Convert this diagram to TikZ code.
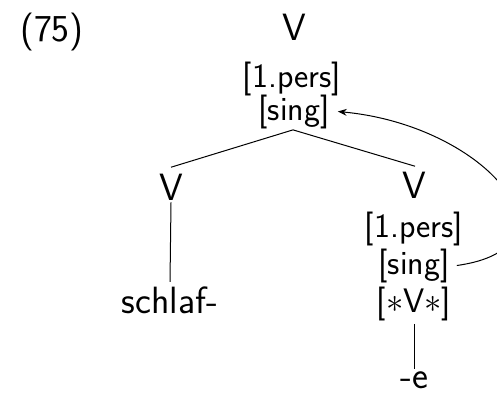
\documentclass[tikz,border=0pt]{standalone}
\usepackage{fontspec}
\usetikzlibrary{arrows.meta}
\tikzset{
  big/.style={inner sep=0pt, anchor=base, font=\sffamily\fontsize{19}{22}\selectfont},
  feat/.style={inner sep=0pt, anchor=base, font=\sffamily\fontsize{17}{20}\selectfont},
  branch/.style={line width=0.5pt},
  agree/.style={line width=0.5pt, -{Stealth[length=4.5pt,width=3.5pt]}}
}
\begin{document}
\begin{tikzpicture}[x=1pt,y=1pt]
\useasboundingbox (0,0) rectangle (248.5,196.5);
\node[big] (num) at (26,176) {(75)};
\node[big] (v1) at (147,176.5) {V};
\node[feat] (f1a) at (146,153) {[1.pers]};
\node[feat] (f1b) at (147,136.5) {[sing]};
\node[big] (v2) at (85.5,96.5) {V};
\node[big] (schlaf) at (85,40) {schlaf-};
\node[big] (v3) at (207,97.5) {V};
\node[feat] (f3a) at (207,78) {[1.pers]};
\node[feat] (f3b) at (207,59.5) {[sing]};
\node[feat] (f3c) at (207,40.5) {[$\ast$V$\ast$]};
\node[big] (e) at (207,2.5) {-e};
\draw[branch] ([xshift=-0.5pt,yshift=-0.5pt]f1b.south) -- ([yshift=3pt]v2.north);
\draw[branch] ([xshift=-0.5pt,yshift=-0.5pt]f1b.south) -- ([xshift=0.5pt,yshift=2.5pt]v3.north);
\draw[branch] ([yshift=-1pt]v2.south) -- ([yshift=2pt]schlaf.north);
\draw[branch] ([yshift=-1.5pt]f3c.south) -- ([yshift=1pt]e.north);
\draw[agree] ([xshift=3.5pt]f3b.east) .. controls +(65,9) and +(75,-7) .. ([xshift=4pt]f1b.east);
\end{tikzpicture}
\end{document}
